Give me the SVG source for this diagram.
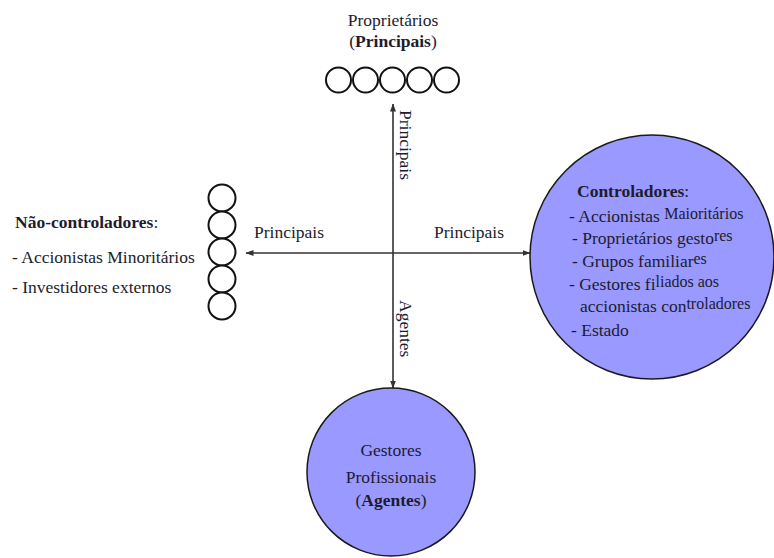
<svg xmlns="http://www.w3.org/2000/svg" width="774" height="558" viewBox="0 0 774 558">
<style>
text{font-family:"Liberation Serif",serif !important;font-size:17.5px;fill:#1c1c2e}
.b{font-weight:bold}
.c{text-anchor:middle}
.ring{fill:#fff;stroke:#111;stroke-width:2}
.big{fill:#9999ff;stroke:#1a1a1a;stroke-width:1.5}
.ln{stroke:#333;stroke-width:1.6;fill:none}
.sm{font-size:16px}
</style>
<defs>
<marker id="ah" markerWidth="8" markerHeight="6" refX="7.5" refY="3" orient="auto" markerUnits="userSpaceOnUse">
<path d="M0,0 L8,3 L0,6 Z" fill="#333"/>
</marker>
</defs>
<g id="connectors">
<line class="ln" x1="393" y1="253" x2="393" y2="104" marker-end="url(#ah)"/>
<line class="ln" x1="393" y1="253" x2="393" y2="388" marker-end="url(#ah)"/>
<line class="ln" x1="393" y1="253" x2="246" y2="253" marker-end="url(#ah)"/>
<line class="ln" x1="393" y1="253" x2="530" y2="253" marker-end="url(#ah)"/>
<text font-family="Liberation Serif" x="254" y="238">Principais</text>
<text font-family="Liberation Serif" x="434" y="238">Principais</text>
<text font-family="Liberation Serif" transform="translate(400,110) rotate(90)">Principais</text>
<text font-family="Liberation Serif" transform="translate(400,300) rotate(90)">Agentes</text>
</g>
<g id="proprietarios">
<text font-family="Liberation Serif" class="c" x="393" y="26">Proprietários</text>
<text font-family="Liberation Serif" class="c" x="393" y="47">(<tspan class="b">Principais</tspan>)</text>
<circle class="ring" cx="338.5" cy="80" r="12.5"/>
<circle class="ring" cx="365.5" cy="80" r="12.5"/>
<circle class="ring" cx="392.5" cy="80" r="12.5"/>
<circle class="ring" cx="419.5" cy="80" r="12.5"/>
<circle class="ring" cx="446.5" cy="80" r="12.5"/>
</g>
<g id="nao-controladores">
<circle class="ring" cx="222" cy="198" r="13.5"/>
<circle class="ring" cx="222" cy="225" r="13.5"/>
<circle class="ring" cx="222" cy="252" r="13.5"/>
<circle class="ring" cx="222" cy="279" r="13.5"/>
<circle class="ring" cx="222" cy="306" r="13.5"/>
<text font-family="Liberation Serif" class="b" x="15" y="228">Não-controladores<tspan font-weight="normal">:</tspan></text>
<text font-family="Liberation Serif" x="12" y="263">- Accionistas Minoritários</text>
<text font-family="Liberation Serif" x="12" y="293">- Investidores externos</text>
</g>
<g id="controladores">
<circle class="big" cx="652" cy="257" r="122"/>
<text font-family="Liberation Serif" class="b" x="577" y="197">Controladores<tspan font-weight="normal">:</tspan></text>
<text font-family="Liberation Serif" x="569" y="222">- Accionistas <tspan class="sm" dy="-3">Maioritários</tspan></text>
<text font-family="Liberation Serif" x="572" y="244">- Proprietários gesto<tspan class="sm" dy="-3">res</tspan></text>
<text font-family="Liberation Serif" x="572" y="267">- Grupos familiar<tspan class="sm" dy="-3">es</tspan></text>
<text font-family="Liberation Serif" x="569" y="290">- Gestores fi<tspan class="sm" dy="-3">liados aos</tspan></text>
<text font-family="Liberation Serif" x="580" y="312">accionistas con<tspan class="sm" dy="-3">troladores</tspan></text>
<text font-family="Liberation Serif" x="571" y="336">- Estado</text>
</g>
<g id="gestores">
<circle class="big" cx="391" cy="472" r="84"/>
<text font-family="Liberation Serif" class="c" x="391" y="456">Gestores</text>
<text font-family="Liberation Serif" class="c" x="391" y="483">Profissionais</text>
<text font-family="Liberation Serif" class="c" x="391" y="506">(<tspan class="b">Agentes</tspan>)</text>
</g>
</svg>
